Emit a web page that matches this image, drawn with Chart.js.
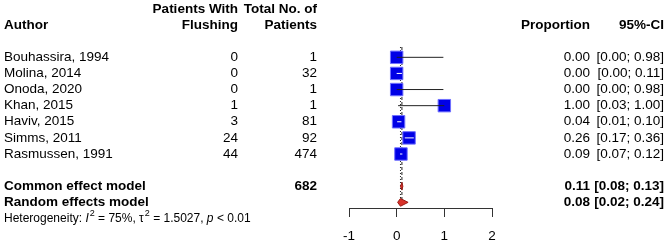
<!DOCTYPE html>
<html>
<head>
<meta charset="utf-8">
<script src="https://cdn.jsdelivr.net/npm/chart.js@4.4.1/dist/chart.umd.min.js"></script>
<style>
  html, body { margin: 0; padding: 0; background: #fff; }
  #wrap { width: 669px; height: 245px; }
</style>
</head>
<body>
<div id="wrap"><canvas id="c" width="669" height="245"></canvas></div>
<script>
// ---- data ----
const authors = ['Bouhassira, 1994', 'Molina, 2014', 'Onoda, 2020', 'Khan, 2015', 'Haviv, 2015', 'Simms, 2011', 'Rasmussen, 1991'];
const events = [0, 0, 0, 1, 3, 24, 44];
const totals = [1, 32, 1, 1, 81, 92, 474];
const proportions = [0.00, 0.00, 0.00, 1.00, 0.04, 0.26, 0.09];
const ciLower = [0.00, 0.00, 0.00, 0.03, 0.01, 0.17, 0.07];
const ciUpper = [0.98, 0.11, 0.98, 1.00, 0.10, 0.36, 0.12];
const commonEffect = { label: 'Common effect model', total: 682, est: 0.11, lo: 0.08, hi: 0.13 };
const randomEffects = { label: 'Random effects model', est: 0.08, lo: 0.02, hi: 0.24 };
const heterogeneity = { i2: '75%', tau2: '1.5027', p: '< 0.01' };
const xTicks = [-1, 0, 1, 2];

// ---- row layout (row index on the y scale) ----
const studyRows = authors.map((_, i) => i + 1);
const commonRow = studyRows.length + 2;
const randomRow = commonRow + 1;
const hetRow = randomRow + 1;
const diamondHalf = 0.24;

const FONT = "'Liberation Sans', Arial, Helvetica, sans-serif";
const FS = 13.5;
const SQUARE_BLUE = '#0000e6';
const DIAMOND_RED = '#d8322a';

const datasets = [];

// reference lines (drawn underneath)
datasets.push({
  data: [{ x: commonEffect.est, y: 0.36 }, { x: commonEffect.est, y: randomRow + 0.1 }],
  showLine: true, borderColor: '#222', borderWidth: 1, borderDash: [3, 2],
  pointRadius: 0, order: 10
});
datasets.push({
  data: [{ x: randomEffects.est, y: 0.36 }, { x: randomEffects.est, y: randomRow + 0.1 }],
  showLine: true, borderColor: '#222', borderWidth: 1, borderDash: [1, 2],
  pointRadius: 0, order: 10
});

// study squares
datasets.push({
  data: proportions.map((p, i) => ({ x: p, y: studyRows[i] })),
  pointStyle: 'rect', pointRadius: 8.8, pointHoverRadius: 8.8,
  backgroundColor: SQUARE_BLUE, borderColor: '#7070ff', borderWidth: 1,
  showLine: false, order: 5
});

// confidence intervals (on top of squares; white when hidden inside the square)
proportions.forEach((p, i) => {
  const inside = (ciUpper[i] - ciLower[i]) < 0.24;
  datasets.push({
    data: [{ x: ciLower[i], y: studyRows[i] }, { x: ciUpper[i], y: studyRows[i] }],
    showLine: true, borderColor: inside ? '#ffffff' : '#222222', borderWidth: 1,
    pointRadius: 0, order: 4
  });
});

// summary diamonds
function diamond(m, row) {
  return [
    { x: m.lo, y: row }, { x: m.est, y: row - diamondHalf },
    { x: m.hi, y: row }, { x: m.est, y: row + diamondHalf }, { x: m.lo, y: row }
  ];
}
[[commonEffect, commonRow], [randomEffects, randomRow]].forEach(([m, row]) => {
  datasets.push({
    data: diamond(m, row), showLine: true, fill: 'shape',
    backgroundColor: DIAMOND_RED, borderColor: '#9a1c16', borderWidth: 1,
    pointRadius: 0, tension: 0, order: 2
  });
});

// ---- text columns plugin ----
const textPlugin = {
  id: 'forestText',
  afterDraw(chart) {
    const ctx = chart.ctx;
    const y = chart.scales.y;
    const rowY = r => y.getPixelForValue(r);
    const colAuthor = 4, colEvents = 238, colTotal = 317, colProp = 590, colCI = 664;
    ctx.save();
    ctx.fillStyle = '#000';
    ctx.textBaseline = 'middle';

    // headers
    ctx.font = 'bold ' + FS + 'px ' + FONT;
    ctx.textAlign = 'left';
    ctx.fillText('Author', colAuthor, rowY(-1));
    ctx.textAlign = 'right';
    ctx.fillText('Patients With', colEvents, rowY(-2));
    ctx.fillText('Flushing', colEvents, rowY(-1));
    ctx.fillText('Total No. of', colTotal, rowY(-2));
    ctx.fillText('Patients', colTotal, rowY(-1));
    ctx.fillText('Proportion', colProp, rowY(-1));
    ctx.fillText('95%-CI', colCI, rowY(-1));

    // studies
    ctx.font = FS + 'px ' + FONT;
    authors.forEach((a, i) => {
      const yy = rowY(studyRows[i]);
      ctx.textAlign = 'left';
      ctx.fillText(a, colAuthor, yy);
      ctx.textAlign = 'right';
      ctx.fillText(String(events[i]), colEvents, yy);
      ctx.fillText(String(totals[i]), colTotal, yy);
      ctx.fillText(proportions[i].toFixed(2), colProp, yy);
      ctx.fillText('[' + ciLower[i].toFixed(2) + '; ' + ciUpper[i].toFixed(2) + ']', colCI, yy);
    });

    // summaries
    ctx.font = 'bold ' + FS + 'px ' + FONT;
    [[commonEffect, commonRow], [randomEffects, randomRow]].forEach(([m, row]) => {
      const yy = rowY(row);
      ctx.textAlign = 'left';
      ctx.fillText(m.label, colAuthor, yy);
      ctx.textAlign = 'right';
      if (m.total !== undefined) ctx.fillText(String(m.total), colTotal, yy);
      ctx.fillText(m.est.toFixed(2), colProp, yy);
      ctx.fillText('[' + m.lo.toFixed(2) + '; ' + m.hi.toFixed(2) + ']', colCI, yy);
    });

    // heterogeneity line
    const hy = rowY(hetRow);
    let x = colAuthor;
    ctx.textAlign = 'left';
    const parts = [
      ['Heterogeneity: ', 'normal'],
      ['I', 'italic'], ['2', 'sup'],
      [' = ' + heterogeneity.i2 + ', ', 'normal'],
      ['\u03c4', 'normal'], ['2', 'sup'],
      [' = ' + heterogeneity.tau2 + ', ', 'normal'],
      ['p', 'italic'],
      [' ' + heterogeneity.p, 'normal']
    ];
    parts.forEach(([t, style]) => {
      if (style === 'sup') { ctx.font = '9px ' + FONT; ctx.fillText(t, x + 1, hy - 5); x += ctx.measureText(t).width + 1; return; }
      ctx.font = (style === 'italic' ? 'italic ' : '') + '12px ' + FONT;
      ctx.fillText(t, x, hy);
      x += ctx.measureText(t).width;
    });
    ctx.restore();
  }
};

new Chart(document.getElementById('c'), {
  type: 'scatter',
  data: { datasets },
  options: {
    responsive: false,
    devicePixelRatio: 1,
    animation: false,
    events: [],
    layout: { padding: { left: 349, right: 177, top: 47, bottom: 0 } },
    plugins: { legend: { display: false }, tooltip: { enabled: false } },
    scales: {
      x: {
        type: 'linear', min: xTicks[0], max: xTicks[xTicks.length - 1],
        afterBuildTicks: s => { s.ticks = xTicks.map(v => ({ value: v })); },
        afterFit: s => { s.height = 37; },
        grid: { drawOnChartArea: false, drawTicks: true, tickLength: 9, color: '#333', lineWidth: 1 },
        border: { display: true, color: '#333', width: 1 },
        ticks: { color: '#000', font: { family: FONT, size: FS }, padding: 11, maxRotation: 0 }
      },
      y: {
        type: 'linear', display: false, reverse: true, min: 0.36, max: 10.35
      }
    }
  },
  plugins: [textPlugin]
});
</script>
</body>
</html>
